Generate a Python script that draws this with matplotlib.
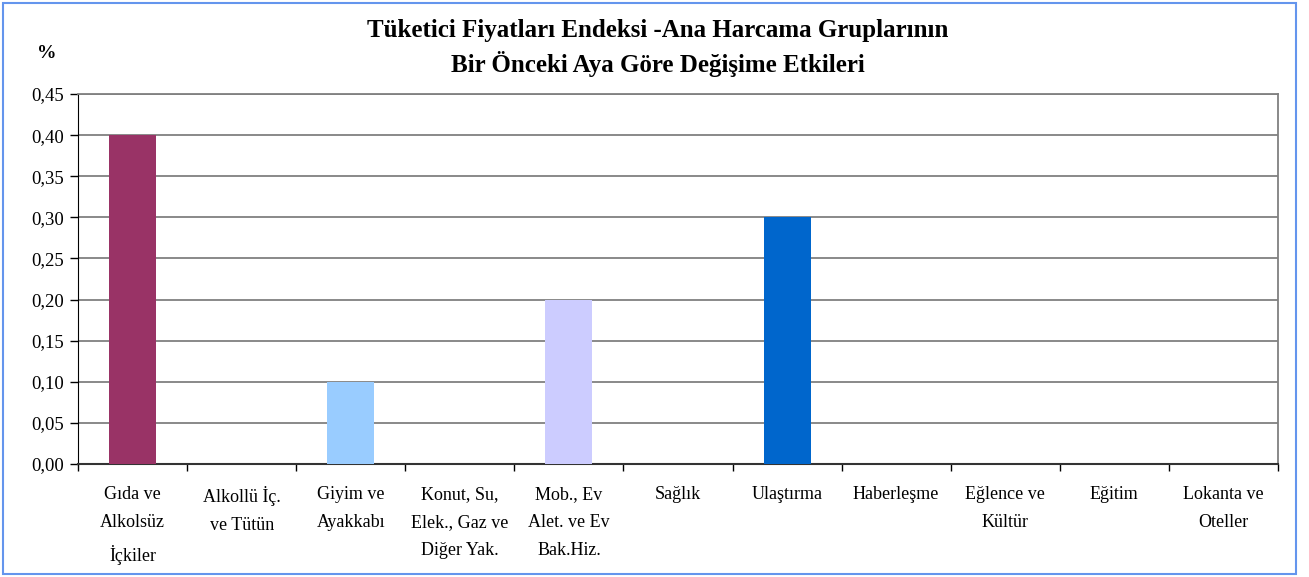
import matplotlib
matplotlib.use("Agg")
import matplotlib.pyplot as plt
from matplotlib.patches import Rectangle
from matplotlib.ticker import FuncFormatter

categories = ["Gıda ve\nAlkolsüz\nİçkiler", "Alkollü İç.\nve Tütün", "Giyim ve\nAyakkabı",
              "Konut, Su,\nElek., Gaz ve\nDiğer Yak.", "Mob., Ev\nAlet. ve Ev\nBak.Hiz.",
              "Sağlık", "Ulaştırma", "Haberleşme", "Eğlence ve\nKültür", "Eğitim",
              "Lokanta ve\nOteller"]
values = [0.40, 0.0, 0.10, 0.0, 0.20, 0.0, 0.30, 0.0, 0.0, 0.0, 0.0]
colors = ["#993366", "#993366", "#99CCFF", "#99CCFF", "#CCCCFF", "#CCCCFF",
          "#0066CC", "#0066CC", "#0066CC", "#0066CC", "#0066CC"]
yticks = [0.00, 0.05, 0.10, 0.15, 0.20, 0.25, 0.30, 0.35, 0.40, 0.45]

plt.rcParams['font.family'] = ['Liberation Serif', 'DejaVu Serif']

fig = plt.figure(figsize=(13.09, 5.77), dpi=100)
ax = fig.add_axes([78/1309, 1-464/577, (1278-78)/1309, (464-94)/577])

x = list(range(len(categories)))
ax.bar(x, values, width=0.43, color=colors, zorder=3)
ax.set_xlim(-0.5, len(categories)-0.5)
ax.set_ylim(0, 0.45)
ax.set_yticks(yticks)
ax.yaxis.set_major_formatter(FuncFormatter(lambda v, p: f"{v:.2f}".replace(".", ",")))
ax.yaxis.grid(True, color="#808080", lw=1.3, zorder=0)
ax.tick_params(axis="y", length=6, width=1, labelsize=13.5, pad=4)
ax.set_xticks(x)
ax.set_xticklabels(categories, fontsize=13, linespacing=1.85)
ax.tick_params(axis="x", which="major", length=0, pad=16)
ax.set_xticks([i - 0.5 for i in range(len(categories)+1)], minor=True)
ax.tick_params(axis="x", which="minor", length=5, width=1)

ax.spines["left"].set_color("black")
ax.spines["bottom"].set_color("#333333")
ax.spines["bottom"].set_linewidth(1.5)
ax.spines["top"].set_color("#808080")
ax.spines["right"].set_color("#808080")
ax.spines["top"].set_linewidth(1.3)
ax.spines["right"].set_linewidth(1.3)

fig.text(658/1309, 1-31/577, "Tüketici Fiyatları Endeksi -Ana Harcama Gruplarının",
         ha="center", va="center", fontsize=18, fontweight="bold")
fig.text(658/1309, 1-64/577, "Bir Önceki Aya Göre Değişime Etkileri",
         ha="center", va="center", fontsize=18, fontweight="bold")
fig.text(47/1309, 1-53/577, "%", ha="center", va="center", fontsize=14, fontweight="bold")

fig.patches.append(Rectangle((3/1309, 3/577), 1293/1309, 571/577, transform=fig.transFigure,
                             fill=False, edgecolor="#6495ED", lw=1.5))

fig.savefig("out.png", dpi=100)
